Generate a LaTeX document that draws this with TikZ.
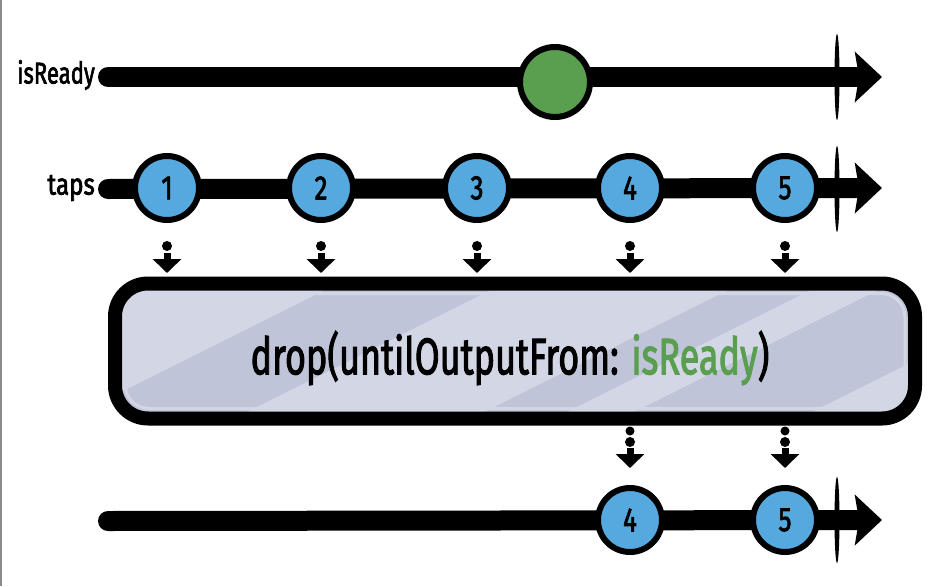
\documentclass[tikz,border=0pt]{standalone}
\usepackage{fontspec}
\setmainfont{Fira Sans}
\newfontfamily\hand{Fira Sans}[FakeBold=2.5]
\usetikzlibrary{arrows.meta,shapes.geometric}
\definecolor{rxblue}{HTML}{55A9DE}
\definecolor{rxgreen}{HTML}{5A9E50}
\definecolor{boxdark}{HTML}{C0C4D8}
\definecolor{boxlight}{HTML}{D3D7E5}
\definecolor{edgegray}{HTML}{8A8A8A}
\newcommand{\tallt}[2]{\scalebox{#1}[#2]}
\begin{document}
\begin{tikzpicture}[x=1pt,y=-1pt,
  timeline/.style={line width=20pt, line cap=round, -{Stealth[length=27pt,width=50pt,inset=4pt]}},
  marble/.style={circle, draw=black, line width=6pt, fill=rxblue, minimum size=64pt, inner sep=0pt, font=\hand\fontsize{26}{26}\selectfont},
  gmarble/.style={marble, fill=rxgreen, minimum size=70pt},
  endmark/.style={ellipse, fill=black, inner sep=0pt, minimum width=5pt, minimum height=86pt},
  dotmark/.style={circle, fill=black, inner sep=0pt, minimum size=10pt},
  dropstem/.style={line width=7pt, -{Triangle[length=14pt,width=28pt]}},
  lbl/.style={anchor=east, inner sep=0pt, font=\hand\fontsize{23}{24}\selectfont},
  opbox/.style={draw=black, line width=14pt, rounded corners=33pt, minimum width=800pt, minimum height=135pt, inner sep=0pt}
]
\useasboundingbox (0,0) rectangle (928,586);
\draw[edgegray, line width=2pt] (1,0) -- (1,586);

% ---- isReady timeline
\coordinate (a0) at (108,77);
\coordinate (a1) at (882,77);
\draw[timeline] (a0) -- (a1);
\node[endmark] (aend) at (837,77) {};
\node[lbl] (alabel) at (95,75) {\tallt{0.96}{1.3}{isReady}};
\node[gmarble] (g) at (555,82) {};

% ---- taps timeline
\coordinate (b0) at (108,189);
\coordinate (b1) at (882,188);
\draw[timeline] (b0) -- (b1);
\node[endmark] (bend) at (837,189) {};
\node[lbl] (blabel) at (95,188) {\tallt{1.05}{1.3}{taps}};
\foreach \n/\x in {1/167,2/321,3/477,4/630,5/785}{
  \node[marble] (t\n) at (\x,188) {\tallt{1}{1.3}{\n}};
}

% ---- operator box fill with stripes
\begin{scope}
  \clip[rounded corners=33pt] (115,283.5) rectangle (915,418.5);
  \fill[boxdark] (100,270) rectangle (930,430);
  \fill[boxlight] (0,270) -- (365,270) -- (45,430) -- (0,430) -- cycle;
  \fill[boxlight] (531,270) -- (768,270) -- (448,430) -- (211,430) -- cycle;
  \fill[boxlight] (851,270) -- (918,270) -- (598,430) -- (531,430) -- cycle;
  \fill[boxlight] (1096,270) -- (1300,270) -- (1300,430) -- (776,430) -- cycle;
  \draw[boxlight, line width=3pt, rounded corners=24pt] (125,293.5) rectangle (905,408.5);
\end{scope}
\node[opbox] (op) at (515,351) {};
\node[font=\hand\fontsize{36}{40}\selectfont, inner sep=0pt] (optext) at (510,358)
  {\tallt{1}{1.42}{drop(untilOutputFrom: \textcolor{rxgreen}{isReady})}};

% ---- dotted arrows into the box
\foreach \n/\x in {1/167,2/321,3/477,4/630,5/785}{
  \node[dotmark] (din\n) at (\x,246) {};
  \coordinate (sin\n) at (\x,253);
  \coordinate (ein\n) at (\x,273);
  \draw[dropstem] (sin\n) -- (ein\n);
}

% ---- dotted arrows out of the box
\foreach \n/\x in {4/630,5/785}{
  \node[dotmark, minimum size=9pt] (dout\n a) at (\x,431) {};
  \node[dotmark] (dout\n b) at (\x,442) {};
  \coordinate (sout\n) at (\x,448);
  \coordinate (eout\n) at (\x,468);
  \draw[dropstem] (sout\n) -- (eout\n);
}

% ---- output timeline
\coordinate (c0) at (108,521);
\coordinate (c1) at (882,520);
\draw[timeline] (c0) -- (c1);
\node[endmark] (cend) at (837,520) {};
\node[marble] (o4) at (630,520) {\tallt{1}{1.3}{4}};
\node[marble] (o5) at (785,520) {\tallt{1}{1.3}{5}};
\end{tikzpicture}
\end{document}
